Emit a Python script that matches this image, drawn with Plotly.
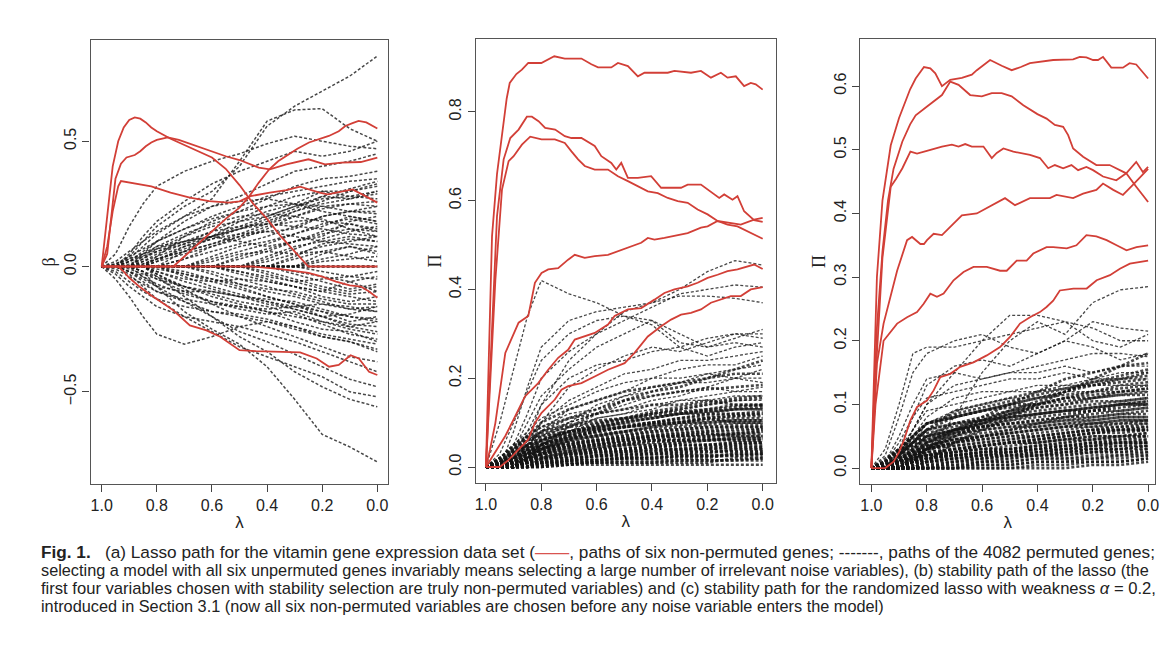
import plotly.graph_objects as go
from plotly.subplots import make_subplots

# lambda grid shared by the permuted (noise) paths
NOISE_LAM = [1.0, 0.95, 0.9, 0.85, 0.8, 0.7, 0.6, 0.5, 0.4, 0.3, 0.2, 0.1, 0.0]

# ---- panel (a): lasso path, six non-permuted genes ----
A1_LAM = [1.0, .98, .96, .94, .92, .90, .88, .86, .84, .82, .80, .75, .70, .65, .60, .55, .50, .45, .40, .35, .30, .25, 0.0]
A1_VAL = [0, .2, .40, .50, .555, .585, .595, .59, .575, .555, .54, .51, .485, .46, .435, .39, .325, .25, .19, .12, .06, 0, 0]
A2_LAM = [1.0, .98, .96, .95, .93, .91, .88, .86, .84, .82, .80, .76, .72, .68, .64, .60, .55, .50, .46, .43, .39, .33, .25, .19, .13, .06, 0.0]
A2_VAL = [0, .05, .25, .35, .41, .435, .445, .46, .48, .495, .505, .515, .505, .49, .475, .46, .44, .425, .408, .395, .388, .408, .428, .408, .415, .417, .435]
A3_LAM = [1.0, .98, .96, .94, .93, .90, .86, .82, .75, .68, .61, .54, .50, .46, .39, .33, .28, .25, .21, .18, .14, .09, .05, 0.0]
A3_VAL = [0, .08, .22, .32, .341, .335, .328, .32, .295, .275, .261, .255, .26, .281, .295, .305, .319, .308, .295, .288, .296, .308, .285, .255]
A4_LAM = [1.0, .74, .70, .65, .60, .55, .50, .464, .43, .392, .36, .332, .29, .248, .21, .176, .14, .116, .09, .068, .04, 0.0]
A4_VAL = [0, 0, .04, .09, .14, .19, .235, .281, .335, .388, .42, .441, .47, .495, .51, .521, .54, .561, .572, .581, .575, .551]
A5_LAM = [1.0, .94, .92, .90, .86, .82, .78, .74, .68, .62, .57, .50, .44, .38, .28, .22, .175, .14, .097, .067, .03, 0.0]
A5_VAL = [0, 0, -.02, -.045, -.083, -.116, -.145, -.175, -.235, -.255, -.28, -.334, -.338, -.34, -.343, -.367, -.40, -.393, -.354, -.367, -.42, -.433]
A6_LAM = [1.0, .45, .35, .25, .20, .15, .10, .06, .03, 0.0]
A6_VAL = [0, 0, -.01, -.025, -.04, -.06, -.075, -.08, -.1, -.125]

# panel (a): permuted genes
AN00 = [0, 0, 0, 0, 0, 0, 0, 0, 0, 0, 0, 0, 0]
AN01 = [0, 0, .04, .1, .16, .24, .3, .4, .56, .64, .7, .76, .84]
AN02 = [0, 0, .03, .08, .13, .2, .27, .42, .58, .625, .63, .55, .5]
AN03 = [0, .05, .16, .25, .32, .38, .42, .45, .49, .52, .5, .48, .47]
AN04 = [0, 0, .05, .12, .18, .26, .33, .38, .42, .46, .44, .46, .5]
AN05 = [0, 0, 0, .05, .1, .18, .24, .28, .33, .38, .4, .42, .45]
AN06 = [0, 0, 0, 0, .04, .12, .18, .22, .27, .32, .35, .36, .38]
AN07 = [0, 0, .02, .06, .1, .15, .2, .24, .28, .3, .32, .34, .35]
AN08 = [0, 0, 0, 0, 0, .06, .12, .18, .22, .25, .3, .3, .32]
AN09 = [0, 0, 0, .03, .07, .12, .16, .18, .2, .24, .28, .27, .3]
AN10 = [0, 0, 0, 0, .02, .08, .12, .15, .17, .2, .23, .25, .26]
AN11 = [0, 0, 0, 0, 0, .03, .08, .12, .14, .15, .2, .22, .22]
AN12 = [0, 0, 0, 0, 0, 0, .04, .08, .1, .13, .16, .2, .18]
AN13 = [0, 0, 0, 0, 0, 0, 0, .04, .07, .1, .14, .17, .14]
AN14 = [0, 0, 0, 0, 0, 0, 0, 0, .04, .08, .1, .12, .1]
AN15 = [0, 0, 0, 0, 0, 0, 0, 0, 0, .03, .06, .08, .06]
AN16 = [0, 0, 0, .04, .08, .1, .12, .1, .08, .1, .12, .18, .2]
AN17 = [0, 0, 0, 0, .03, .06, .09, .12, .16, .18, .19, .15, .12]
AN18 = [0, -.05, -.12, -.2, -.27, -.31, -.28, -.24, -.22, -.24, -.28, -.3, -.33]
AN19 = [0, 0, 0, -.02, -.08, -.18, -.25, -.31, -.4, -.53, -.67, -.72, -.78]
AN20 = [0, 0, 0, 0, -.04, -.12, -.2, -.28, -.34, -.42, -.48, -.53, -.56]
AN21 = [0, 0, -.03, -.08, -.13, -.2, -.26, -.32, -.36, -.4, -.44, -.5, -.52]
AN22 = [0, 0, 0, -.04, -.08, -.14, -.2, -.26, -.3, -.35, -.4, -.45, -.48]
AN23 = [0, -.03, -.08, -.12, -.16, -.2, -.22, -.24, -.27, -.3, -.34, -.38, -.42]
AN24 = [0, 0, -.02, -.06, -.1, -.14, -.18, -.2, -.22, -.25, -.28, -.3, -.34]
AN25 = [0, 0, 0, 0, -.03, -.08, -.12, -.15, -.18, -.22, -.25, -.26, -.3]
AN26 = [0, 0, 0, -.02, -.05, -.1, -.14, -.17, -.19, -.18, -.22, -.24, -.26]
AN27 = [0, 0, 0, 0, 0, -.04, -.08, -.11, -.14, -.16, -.18, -.22, -.2]
AN28 = [0, 0, 0, 0, 0, 0, -.03, -.07, -.1, -.12, -.15, -.16, -.18]
AN29 = [0, 0, 0, 0, 0, 0, 0, -.03, -.06, -.08, -.12, -.14, -.12]
AN30 = [0, 0, 0, 0, 0, 0, 0, 0, -.02, -.05, -.08, -.1, -.08]
AN31 = [0, 0, 0, 0, 0, -.02, -.05, -.08, -.12, -.15, -.2, -.24, -.22]
AN32 = [0, 0, -.02, -.05, -.08, -.1, -.1, -.12, -.14, -.17, -.2, -.19, -.16]
AN33 = [0, 0, 0, 0, -.02, -.05, -.06, -.05, -.06, -.08, -.1, -.06, -.04]
AN34 = [0, 0, 0, 0, 0, 0, 0, -.02, -.04, -.06, -.05, -.04, -.02]
AN35 = [0, 0, 0, 0, 0, 0, .02, .05, .06, .05, .06, .04, .02]
AN36 = [0, 0, 0, .02, .05, .09, .14, .19, .24, .28, .3, .28, .3]
AN37 = [0, 0, 0, 0, -.03, -.09, -.15, -.2, -.24, -.28, -.32, -.36, -.38]
AN38 = [0, 0, 0, 0, 0, 0, 0, 0, 0, -.02, -.04, -.06, -.1]
AN39 = [0, 0, 0, 0, 0, 0, 0, 0, .02, .05, .08, .1, .12]
AN40 = [0, 0, 0, 0, 0, 0, 0, 0, 0, 0, .03, .05, .08]
AN41 = [0, .02, .06, .1, .14, .2, .24, .26, .27, .25, .22, .2, .18]
AN42 = [0, .01, .04, .07, .1, .15, .19, .22, .24, .25, .24, .22, .24]
AN43 = [0, 0, .02, .05, .08, .13, .17, .2, .21, .2, .18, .17, .15]
AN44 = [0, 0, .01, .03, .06, .1, .14, .16, .17, .16, .15, .13, .12]
AN45 = [0, 0, 0, .02, .04, .08, .11, .13, .14, .12, .1, .09, .08]
AN46 = [0, .01, .03, .05, .07, .1, .12, .15, .18, .22, .26, .3, .33]
AN47 = [0, 0, .02, .04, .06, .09, .12, .16, .2, .24, .27, .28, .27]
AN48 = [0, 0, 0, .01, .03, .06, .09, .13, .17, .22, .25, .27, .29]
AN49 = [0, 0, 0, 0, .02, .05, .08, .11, .15, .2, .24, .25, .24]
AN50 = [0, 0, 0, 0, 0, .03, .06, .09, .12, .16, .2, .22, .21]
AN51 = [0, 0, 0, 0, 0, 0, .03, .06, .09, .13, .17, .19, .17]
AN52 = [0, 0, 0, 0, 0, 0, 0, .03, .06, .1, .13, .15, .14]
AN53 = [0, 0, 0, 0, 0, 0, 0, 0, .03, .07, .11, .14, .16]
AN54 = [0, 0, 0, 0, 0, 0, 0, 0, 0, .04, .09, .11, .1]
AN55 = [0, 0, 0, 0, 0, 0, 0, 0, 0, 0, .05, .08, .05]
AN56 = [0, -.01, -.04, -.07, -.1, -.13, -.15, -.16, -.17, -.16, -.15, -.17, -.18]
AN57 = [0, 0, -.02, -.04, -.07, -.11, -.14, -.16, -.18, -.2, -.22, -.25, -.27]
AN58 = [0, 0, 0, -.02, -.04, -.08, -.11, -.14, -.16, -.19, -.23, -.27, -.29]
AN59 = [0, 0, 0, 0, -.02, -.06, -.09, -.12, -.15, -.17, -.2, -.23, -.24]
AN60 = [0, 0, 0, 0, 0, -.03, -.06, -.09, -.12, -.15, -.18, -.2, -.22]
AN61 = [0, 0, 0, 0, 0, 0, -.02, -.05, -.08, -.11, -.14, -.17, -.16]
AN62 = [0, 0, 0, 0, 0, 0, 0, -.02, -.05, -.08, -.1, -.12, -.14]
AN63 = [0, 0, 0, 0, 0, 0, 0, 0, -.03, -.06, -.09, -.11, -.1]
AN64 = [0, 0, 0, 0, 0, 0, 0, 0, 0, -.03, -.06, -.09, -.07]
AN65 = [0, -.02, -.06, -.1, -.13, -.16, -.18, -.19, -.21, -.24, -.27, -.29, -.31]
AN66 = [0, 0, -.01, -.03, -.05, -.08, -.1, -.12, -.13, -.14, -.17, -.2, -.21]
AN67 = [0, 0, 0, 0, -.01, -.03, -.05, -.07, -.09, -.1, -.13, -.15, -.15]
AN68 = [0, 0, 0, 0, 0, 0, 0, 0, 0, 0, -.02, -.04, -.05]
AN69 = [0, 0, 0, 0, 0, 0, 0, 0, 0, 0, .02, .03, .04]
AN70 = [0, 0, 0, .01, .03, .07, .11, .15, .19, .23, .28, .31, .34]

# ---- panel (b): stability path of the lasso ----
B1_LAM = [1.0, .978, .96, .94, .925, .914, .89, .87, .847, .80, .776, .753, .715, .655, .619, .595, .547, .523, .487, .451, .427, .343, .319, .259, .223, .187, .151, .127, .097, .067, .043, .025, 0.0]
B1_VAL = [0, .52, .66, .76, .83, .865, .885, .895, .91, .91, .918, .925, .92, .92, .907, .90, .90, .91, .903, .88, .888, .888, .892, .888, .892, .877, .888, .877, .88, .858, .865, .862, .85]
B2_LAM = [1.0, .984, .96, .936, .912, .882, .852, .834, .81, .786, .75, .715, .691, .655, .607, .583, .547, .529, .511, .487, .451, .403, .367, .295, .271, .223, .175, .157, .139, .109, .091, .067, .031, 0.0]
B2_VAL = [0, .234, .565, .693, .741, .76, .789, .789, .779, .764, .76, .745, .741, .741, .723, .70, .685, .67, .685, .651, .651, .655, .629, .629, .636, .636, .614, .606, .614, .602, .61, .576, .556, .552]
B3_LAM = [1.0, .984, .966, .942, .918, .90, .87, .84, .799, .751, .715, .691, .667, .643, .607, .559, .523, .487, .451, .415, .379, .343, .307, .271, .235, .199, .163, .127, .091, .055, 0.0]
B3_VAL = [0, .2, .42, .625, .689, .70, .726, .744, .738, .738, .73, .711, .693, .678, .67, .67, .655, .644, .632, .621, .617, .606, .599, .595, .58, .569, .554, .546, .542, .531, .514]
B4_LAM = [1.0, .985, .966, .93, .882, .847, .823, .799, .775, .739, .703, .679, .643, .607, .559, .523, .487, .439, .415, .391, .355, .319, .271, .223, .199, .163, .127, .079, .031, 0.0]
B4_VAL = [0, .04, .099, .257, .325, .34, .415, .437, .445, .448, .467, .478, .471, .475, .478, .486, .494, .505, .516, .512, .516, .52, .527, .539, .542, .554, .55, .546, .557, .561]
B5_LAM = [1.0, .97, .93, .90, .859, .811, .775, .739, .703, .679, .643, .607, .559, .535, .487, .439, .391, .355, .319, .271, .235, .199, .163, .127, .091, .031, 0.0]
B5_VAL = [0, .03, .07, .107, .159, .189, .219, .246, .264, .287, .294, .302, .321, .34, .355, .358, .377, .392, .40, .407, .415, .426, .433, .441, .445, .456, .446]
B6_LAM = [1.0, .95, .92, .88, .847, .823, .799, .751, .727, .703, .655, .607, .559, .499, .463, .415, .367, .331, .295, .259, .223, .187, .151, .115, .079, .043, 0.0]
B6_VAL = [0, 0, .015, .04, .062, .099, .122, .152, .174, .182, .189, .204, .219, .234, .257, .294, .317, .332, .343, .347, .355, .37, .377, .385, .385, .40, .405]

# panel (b): permuted genes
BN01 = [0, .1, .22, .34, .42, .39, .37, .34, .33, .28, .27, .28, .27]
BN02 = [0, 0, .05, .12, .2, .26, .3, .35, .37, .4, .44, .465, .455]
BN03 = [0, 0, .08, .18, .27, .33, .35, .36, .37, .385, .385, .38, .37]
BN04 = [0, 0, 0, .06, .14, .24, .3, .33, .36, .39, .40, .41, .405]
BN05 = [0, .03, .1, .17, .24, .3, .33, .34, .32, .27, .29, .3, .3]
BN06 = [0, 0, .04, .1, .16, .22, .27, .3, .33, .3, .27, .29, .31]
BN07 = [0, 0, 0, .04, .1, .18, .22, .25, .27, .26, .28, .3, .29]
BN08 = [0, 0, .03, .08, .14, .2, .23, .24, .26, .27, .25, .27, .28]
BN09 = [0, 0, .02, .06, .1, .15, .18, .21, .22, .24, .24, .25, .26]
BN10 = [0, .02, .05, .08, .11, .14, .17, .19, .2, .22, .23, .23, .25]
BN11 = [0, 0, .02, .05, .08, .13, .15, .17, .2, .2, .21, .22, .23]
BN12 = [0, 0, 0, .03, .06, .1, .14, .16, .18, .19, .21, .2, .22]
BN13 = [0, .01, .04, .07, .09, .12, .13, .16, .17, .19, .19, .2, .2]
BN14 = [0, 0, .01, .04, .07, .1, .12, .14, .16, .17, .18, .2, .19]
BN15 = [0, 0, .03, .06, .08, .1, .12, .13, .15, .16, .18, .17, .18]
BN16 = [0, 0, 0, .02, .05, .08, .11, .12, .14, .15, .16, .17, .17]
BN17 = [0, .01, .03, .05, .07, .09, .11, .12, .13, .15, .15, .16, .16]
BN18 = [0, 0, .02, .04, .06, .08, .1, .11, .12, .13, .14, .15, .15]
BN19 = [0, 0, 0, .02, .04, .07, .09, .1, .11, .12, .13, .14, .14]
BN20 = [0, .01, .03, .05, .06, .08, .09, .1, .11, .12, .12, .13, .13]
BN21 = [0, 0, .02, .04, .05, .07, .08, .09, .1, .11, .12, .12, .125]
BN22 = [0, 0, 0, .02, .04, .06, .07, .08, .09, .1, .11, .115, .115]
BN23 = [0, .01, .02, .04, .05, .06, .07, .08, .09, .095, .1, .105, .105]
BN24 = [0, 0, .01, .03, .04, .05, .06, .07, .08, .085, .09, .095, .095]
BN25 = [0, 0, 0, .01, .03, .04, .05, .06, .07, .075, .08, .085, .085]
BN26 = [0, .01, .02, .03, .04, .045, .05, .055, .06, .065, .07, .075, .075]
BN27 = [0, 0, .01, .02, .03, .035, .04, .045, .05, .055, .06, .065, .065]
BN28 = [0, 0, 0, .01, .02, .03, .035, .04, .045, .05, .05, .055, .055]
BN29 = [0, .005, .01, .02, .025, .03, .03, .035, .04, .04, .045, .045, .045]
BN30 = [0, 0, .005, .01, .015, .02, .025, .03, .03, .035, .035, .035, .035]
BN31 = [0, 0, 0, .005, .01, .015, .02, .02, .025, .025, .025, .025, .025]
BN32 = [0, 0, 0, 0, .005, .01, .01, .015, .015, .015, .015, .015, .015]
BN33 = [0, 0, 0, 0, 0, .005, .005, .005, .005, .005, .005, .005, .005]
BN34 = [0, .02, .04, .06, .07, .08, .085, .09, .095, .1, .105, .11, .11]
BN35 = [0, .015, .03, .045, .055, .065, .07, .075, .08, .085, .09, .09, .09]
BN36 = [0, .01, .025, .035, .045, .05, .055, .06, .065, .07, .07, .075, .08]
BN37 = [0, .01, .02, .03, .035, .04, .045, .05, .05, .055, .06, .06, .06]
BN38 = [0, .005, .015, .02, .025, .03, .035, .035, .04, .04, .045, .05, .05]
BN39 = [0, 0, .01, .015, .02, .02, .025, .025, .03, .03, .03, .04, .04]
BN40 = [0, 0, 0, .01, .01, .015, .015, .02, .02, .02, .02, .03, .03]
BN41 = [0, 0, 0, 0, .01, .01, .01, .01, .01, .01, .01, .02, .02]
BN42 = [0, 0, .01, .03, .05, .07, .08, .09, .1, .1, .11, .1, .1]
BN43 = [0, 0, 0, .015, .03, .05, .06, .065, .07, .07, .075, .07, .07]
BN44 = [0, .02, .05, .07, .09, .11, .12, .13, .14, .14, .15, .14, .14]
BN45 = [0, 0, 0, 0, .015, .03, .04, .05, .06, .06, .065, .06, .06]
BN46 = [0, .01, .02, .035, .045, .055, .06, .065, .07, .075, .08, .08, .085]
BN47 = [0, 0, .015, .025, .035, .045, .05, .055, .06, .06, .065, .07, .07]
BN48 = [0, .005, .01, .02, .03, .035, .04, .04, .045, .05, .05, .055, .055]
BN49 = [0, 0, 0, .01, .02, .025, .03, .035, .035, .04, .04, .045, .045]
BN50 = [0, .005, .01, .015, .02, .02, .025, .025, .03, .03, .035, .035, .035]
BN51 = [0, 0, .005, .01, .01, .015, .015, .02, .02, .025, .025, .025, .03]
BN52 = [0, 0, 0, 0, .005, .005, .01, .01, .01, .015, .015, .015, .02]
BN53 = [0, .015, .035, .05, .065, .08, .09, .095, .1, .105, .11, .115, .12]
BN54 = [0, .01, .03, .045, .06, .075, .085, .09, .095, .1, .1, .105, .105]
BN55 = [0, 0, .02, .035, .05, .065, .075, .08, .085, .09, .095, .1, .1]
BN56 = [0, 0, .01, .025, .04, .055, .065, .07, .075, .08, .085, .09, .09]
BN57 = [0, 0, 0, .015, .03, .045, .055, .06, .065, .07, .075, .075, .08]
BN58 = [0, 0, 0, 0, .02, .035, .045, .05, .055, .06, .06, .065, .065]
BN59 = [0, 0, 0, 0, .01, .025, .035, .04, .045, .045, .05, .05, .055]
BN60 = [0, 0, 0, 0, 0, .015, .025, .03, .035, .035, .04, .04, .04]
BN61 = [0, 0, 0, 0, 0, .005, .015, .02, .02, .025, .025, .03, .03]
BN62 = [0, .02, .045, .065, .08, .095, .105, .11, .115, .12, .125, .13, .13]
BN63 = [0, .01, .035, .06, .075, .09, .1, .11, .12, .125, .13, .135, .14]
BN64 = [0, 0, .02, .04, .06, .08, .095, .105, .11, .12, .125, .13, .135]
BN65 = [0, 0, 0, .02, .04, .065, .08, .09, .1, .11, .115, .12, .12]
BN66 = [0, 0, .01, .03, .05, .075, .095, .11, .125, .135, .145, .155, .16]
BN67 = [0, 0, 0, .01, .03, .06, .085, .105, .12, .13, .14, .15, .155]
BN68 = [0, 0, .02, .05, .08, .11, .13, .15, .16, .17, .175, .18, .185]
BN69 = [0, .01, .04, .07, .1, .13, .15, .17, .18, .19, .2, .21, .21]
BN70 = [0, 0, 0, .02, .05, .09, .12, .15, .17, .18, .2, .22, .24]

# ---- panel (c): stability path, randomized lasso (alpha = 0.2) ----
C1_LAM = [1.0, .98, .96, .93, .90, .882, .86, .84, .81, .787, .769, .745, .715, .673, .637, .619, .571, .529, .493, .46, .427, .343, .271, .247, .223, .199, .181, .163, .133, .091, .067, .043, 0.0]
C1_VAL = [0, .3, .42, .507, .55, .57, .595, .612, .63, .628, .62, .60, .61, .613, .618, .625, .641, .632, .625, .63, .636, .641, .642, .646, .645, .641, .641, .646, .629, .629, .636, .634, .612]
C2_LAM = [1.0, .98, .96, .94, .92, .888, .86, .84, .793, .745, .715, .685, .643, .601, .565, .529, .493, .451, .40, .367, .337, .307, .289, .271, .235, .187, .139, .079, .043, 0.0]
C2_VAL = [0, .22, .34, .42, .47, .513, .54, .554, .57, .586, .607, .602, .586, .584, .589, .589, .584, .57, .556, .549, .539, .536, .523, .502, .489, .476, .476, .463, .442, .418]
C3_LAM = [1.0, .98, .96, .93, .91, .888, .859, .835, .793, .745, .709, .685, .661, .637, .595, .565, .547, .523, .487, .427, .391, .361, .337, .307, .277, .253, .223, .199, .163, .115, .079, .043, .019, 0.0]
C3_VAL = [0, .18, .33, .442, .455, .471, .497, .494, .499, .505, .508, .505, .509, .505, .505, .487, .495, .502, .497, .492, .487, .471, .476, .471, .476, .468, .473, .468, .458, .452, .463, .481, .465, .473]
C4_LAM = [1.0, .98, .956, .907, .871, .853, .823, .81, .799, .775, .745, .709, .673, .619, .577, .517, .481, .427, .355, .331, .271, .235, .187, .163, .126, .091, .055, 0.0]
C4_VAL = [0, .164, .227, .31, .358, .363, .352, .352, .358, .368, .366, .382, .397, .40, .41, .424, .413, .424, .424, .429, .424, .431, .437, .447, .437, .429, .445, .47]
C5_LAM = [1.0, .985, .956, .907, .871, .835, .811, .787, .763, .739, .703, .667, .631, .583, .535, .511, .475, .439, .415, .367, .343, .294, .259, .223, .187, .15, .114, .078, .042, 0.0]
C5_VAL = [0, .1, .20, .227, .237, .245, .258, .274, .269, .274, .295, .308, .316, .316, .31, .31, .326, .326, .337, .347, .347, .345, .35, .366, .364, .358, .35, .342, .347, .35]
C6_LAM = [1.0, .95, .92, .90, .883, .859, .835, .799, .775, .751, .715, .679, .631, .583, .535, .499, .463, .427, .391, .367, .343, .319, .27, .222, .186, .138, .102, .066, 0.0]
C6_VAL = [0, 0, .01, .025, .043, .075, .096, .106, .122, .143, .148, .159, .166, .177, .19, .206, .227, .237, .245, .253, .263, .279, .282, .282, .295, .303, .313, .321, .326]

# panel (c): permuted genes
CN01 = [0, 0, 0, .01, .03, .08, .15, .2, .23, .21, .26, .28, .285]
CN02 = [0, 0, .02, .06, .1, .15, .2, .24, .24, .23, .2, .19, .21]
CN03 = [0, .02, .08, .15, .18, .2, .21, .19, .18, .2, .23, .22, .215]
CN04 = [0, .03, .1, .18, .19, .19, .2, .21, .22, .23, .22, .2, .2]
CN05 = [0, 0, .03, .08, .13, .16, .17, .16, .18, .2, .19, .17, .18]
CN06 = [0, .01, .05, .1, .14, .15, .14, .15, .16, .17, .18, .18, .175]
CN07 = [0, 0, .02, .06, .1, .13, .14, .15, .15, .16, .15, .16, .16]
CN08 = [0, .01, .04, .08, .11, .12, .13, .14, .14, .15, .14, .15, .15]
CN09 = [0, 0, .02, .05, .08, .11, .12, .12, .13, .13, .14, .14, .14]
CN10 = [0, .01, .03, .06, .09, .1, .11, .12, .12, .13, .13, .13, .13]
CN11 = [0, 0, .02, .04, .07, .09, .1, .11, .11, .12, .12, .12, .12]
CN12 = [0, .01, .03, .05, .07, .08, .09, .1, .1, .11, .11, .115, .115]
CN13 = [0, 0, .01, .03, .05, .07, .08, .09, .095, .1, .105, .105, .11]
CN14 = [0, .005, .02, .04, .06, .07, .075, .08, .085, .09, .095, .1, .1]
CN15 = [0, 0, .01, .03, .05, .06, .07, .075, .08, .085, .09, .09, .095]
CN16 = [0, .005, .015, .03, .04, .05, .06, .065, .07, .075, .08, .085, .085]
CN17 = [0, 0, .01, .02, .035, .045, .055, .06, .065, .07, .075, .08, .08]
CN18 = [0, .005, .015, .025, .035, .045, .05, .055, .06, .065, .07, .07, .075]
CN19 = [0, 0, .01, .02, .03, .04, .045, .05, .055, .06, .065, .065, .07]
CN20 = [0, .005, .01, .02, .03, .035, .04, .045, .05, .055, .06, .06, .065]
CN21 = [0, 0, .005, .015, .025, .03, .035, .04, .045, .05, .055, .055, .06]
CN22 = [0, .005, .01, .015, .02, .025, .03, .035, .04, .045, .05, .05, .055]
CN23 = [0, 0, .005, .01, .02, .025, .03, .03, .035, .04, .045, .045, .05]
CN24 = [0, 0, 0, .01, .015, .02, .025, .03, .03, .035, .04, .04, .045]
CN25 = [0, .005, .01, .015, .02, .02, .025, .025, .03, .03, .035, .035, .04]
CN26 = [0, 0, .005, .01, .015, .015, .02, .02, .025, .025, .03, .03, .035]
CN27 = [0, 0, 0, .005, .01, .01, .015, .015, .02, .02, .025, .025, .03]
CN28 = [0, 0, 0, 0, .005, .005, .01, .01, .015, .015, .02, .02, .025]
CN29 = [0, 0, 0, 0, 0, 0, .005, .005, .01, .01, .015, .015, .02]
CN30 = [0, 0, 0, 0, 0, 0, 0, 0, .005, .005, .01, .01, .015]
CN31 = [0, 0, 0, 0, 0, 0, 0, 0, 0, 0, .005, .005, .01]
CN32 = [0, 0, .01, .025, .04, .055, .065, .07, .075, .08, .085, .09, .095]
CN33 = [0, 0, .005, .015, .03, .04, .05, .055, .06, .065, .07, .075, .075]
CN34 = [0, .01, .02, .035, .05, .06, .065, .07, .075, .08, .08, .085, .09]
CN35 = [0, 0, 0, .005, .015, .025, .035, .04, .045, .05, .055, .06, .06]
CN36 = [0, 0, .005, .01, .02, .03, .035, .04, .04, .045, .05, .05, .05]
CN37 = [0, 0, 0, .01, .015, .02, .025, .025, .03, .035, .035, .04, .04]
CN38 = [0, 0, 0, 0, .01, .015, .02, .02, .02, .025, .025, .03, .03]
CN39 = [0, 0, .01, .02, .03, .04, .05, .06, .07, .08, .09, .1, .105]
CN40 = [0, 0, 0, .02, .04, .06, .07, .085, .095, .1, .11, .115, .12]
CN41 = [0, .01, .03, .05, .07, .08, .09, .095, .1, .105, .11, .12, .125]
CN42 = [0, 0, .02, .04, .06, .09, .1, .11, .12, .125, .13, .135, .14]
CN43 = [0, 0, 0, .01, .03, .06, .08, .1, .12, .14, .15, .16, .165]
CN44 = [0, 0, .02, .05, .07, .08, .09, .1, .11, .12, .13, .14, .15]
CN45 = [0, 0, 0, 0, .01, .04, .06, .08, .1, .12, .14, .16, .18]
CN46 = [0, .005, .01, .02, .03, .04, .045, .05, .05, .055, .06, .06, .06]
CN47 = [0, 0, .01, .015, .025, .03, .035, .04, .04, .045, .045, .05, .05]
CN48 = [0, .005, .01, .015, .02, .025, .03, .03, .035, .035, .04, .04, .04]
CN49 = [0, 0, 0, .01, .015, .02, .02, .025, .025, .03, .03, .035, .035]
CN50 = [0, 0, .005, .01, .01, .015, .015, .02, .02, .02, .025, .025, .025]
CN51 = [0, 0, 0, 0, .005, .01, .01, .01, .015, .015, .015, .02, .02]
CN52 = [0, 0, 0, 0, 0, .005, .005, .005, .01, .01, .01, .01, .015]
CN53 = [0, .01, .025, .04, .05, .06, .065, .07, .07, .075, .075, .08, .08]
CN54 = [0, .005, .02, .035, .045, .055, .06, .065, .065, .07, .07, .075, .075]
CN55 = [0, 0, .015, .025, .035, .045, .05, .055, .06, .065, .065, .07, .07]
CN56 = [0, 0, .01, .02, .03, .035, .04, .045, .05, .055, .06, .065, .065]
CN57 = [0, 0, 0, .01, .02, .03, .035, .04, .045, .05, .055, .06, .06]
CN58 = [0, 0, 0, .005, .015, .02, .025, .03, .035, .04, .045, .05, .055]
CN59 = [0, 0, 0, 0, .01, .015, .02, .025, .03, .035, .04, .045, .045]
CN60 = [0, 0, 0, 0, 0, .01, .015, .02, .025, .03, .035, .04, .04]
CN61 = [0, 0, 0, 0, 0, 0, .01, .015, .02, .025, .03, .03, .035]
CN62 = [0, .015, .03, .045, .06, .07, .075, .08, .085, .09, .09, .095, .1]
CN63 = [0, .01, .025, .04, .055, .065, .075, .085, .09, .095, .1, .105, .11]
CN64 = [0, 0, .015, .03, .045, .06, .07, .08, .085, .09, .095, .1, .105]
CN65 = [0, 0, 0, .015, .03, .05, .065, .075, .085, .09, .095, .1, .1]
CN66 = [0, 0, .01, .025, .04, .06, .075, .09, .1, .11, .115, .12, .125]
CN67 = [0, 0, 0, .01, .025, .05, .07, .085, .1, .11, .12, .125, .13]
CN68 = [0, 0, .02, .04, .06, .08, .09, .1, .11, .115, .12, .13, .135]
CN69 = [0, .01, .03, .05, .07, .085, .095, .105, .115, .125, .135, .14, .145]
CN70 = [0, 0, 0, .01, .03, .055, .075, .09, .105, .12, .135, .145, .155]

X_TICKS = [1.0, 0.8, 0.6, 0.4, 0.2, 0.0]
X_TICKTEXT = ['1.0', '0.8', '0.6', '0.4', '0.2', '0.0']

CAPTION = [
    '<b>Fig. 1.</b>&nbsp;&nbsp;&nbsp;(a) Lasso path for the vitamin gene expression data set '
    '(<span style="color:#d9534f">——</span>, paths of six non-permuted genes; -------, '
    'paths of the 4082 permuted genes;',
    'selecting a model with all six unpermuted genes invariably means selecting a large number '
    'of irrelevant noise variables), (b) stability path of the lasso (the',
    'first four variables chosen with stability selection are truly non-permuted variables) '
    'and (c) stability path for the randomized lasso with weakness <i>α</i> = 0.2,',
    'introduced in Section 3.1 (now all six non-permuted variables are chosen before any '
    'noise variable enters the model)',
]
CAPTION_SIZE = [17.2, 16.3, 16.6, 16.3]

RED = '#d23f37'
NOISE = 'rgba(20,20,20,0.78)'

red_a = [(A1_LAM, A1_VAL), (A2_LAM, A2_VAL), (A3_LAM, A3_VAL),
         (A4_LAM, A4_VAL), (A5_LAM, A5_VAL), (A6_LAM, A6_VAL)]
red_b = [(B1_LAM, B1_VAL), (B2_LAM, B2_VAL), (B3_LAM, B3_VAL),
         (B4_LAM, B4_VAL), (B5_LAM, B5_VAL), (B6_LAM, B6_VAL)]
red_c = [(C1_LAM, C1_VAL), (C2_LAM, C2_VAL), (C3_LAM, C3_VAL),
         (C4_LAM, C4_VAL), (C5_LAM, C5_VAL), (C6_LAM, C6_VAL)]

noise_a = [AN01, AN02, AN03, AN04, AN05, AN06, AN07, AN08, AN09, AN10,
           AN11, AN12, AN13, AN14, AN15, AN16, AN17, AN18, AN19, AN20,
           AN21, AN22, AN23, AN24, AN25, AN26, AN27, AN28, AN29, AN30,
           AN31, AN32, AN33, AN34, AN35, AN36, AN37, AN38, AN39, AN40,
           AN41, AN42, AN43, AN44, AN45, AN46, AN47, AN48, AN49, AN50,
           AN51, AN52, AN53, AN54, AN55, AN56, AN57, AN58, AN59, AN60,
           AN61, AN62, AN63, AN64, AN65, AN66, AN67, AN68, AN69, AN70]
# sparse upper paths and the dense band near zero
noise_b_top = [BN01, BN02, BN03, BN04, BN05, BN06, BN07, BN08, BN09, BN10,
               BN11, BN12, BN13, BN14, BN15, BN16, BN17, BN18]
noise_b_low = [BN19, BN20, BN21, BN22, BN23, BN24, BN25, BN26, BN27, BN28,
               BN29, BN30, BN31, BN32, BN33, BN34, BN35, BN36, BN37, BN38,
               BN39, BN40, BN41, BN42, BN43, BN44, BN45, BN46, BN47, BN48,
               BN49, BN50, BN51, BN52, BN53, BN54, BN55, BN56, BN57, BN58,
               BN59, BN60, BN61, BN62, BN63, BN64, BN65, BN66, BN67, BN68,
               BN69, BN70]
noise_c_top = [CN01, CN02, CN03, CN04, CN05, CN06, CN07, CN08, CN09, CN10, CN11]
noise_c_low = [CN12, CN13, CN14, CN15, CN16, CN17, CN18, CN19, CN20,
               CN21, CN22, CN23, CN24, CN25, CN26, CN27, CN28, CN29, CN30,
               CN31, CN32, CN33, CN34, CN35, CN36, CN37, CN38, CN39, CN40,
               CN41, CN42, CN43, CN44, CN45, CN46, CN47, CN48, CN49, CN50,
               CN51, CN52, CN53, CN54, CN55, CN56, CN57, CN58, CN59, CN60,
               CN61, CN62, CN63, CN64, CN65, CN66, CN67, CN68, CN69, CN70]

fig = make_subplots(rows=1, cols=3)


def add_noise(col, paths, width=1.3):
    for p in paths:
        fig.add_trace(go.Scatter(x=NOISE_LAM, y=p, mode='lines',
                                 line=dict(color=NOISE, width=width, dash='3px,2px'),
                                 hoverinfo='skip', showlegend=False), row=1, col=col)


def add_red(col, paths):
    for lam, val in paths:
        fig.add_trace(go.Scatter(x=lam, y=val, mode='lines',
                                 line=dict(color=RED, width=1.8),
                                 hoverinfo='skip', showlegend=False), row=1, col=col)


add_noise(1, noise_a, width=1.5)
add_noise(1, [AN00], width=3)
add_noise(2, noise_b_top)
add_noise(2, noise_b_low, width=2.6)
add_noise(3, noise_c_top)
add_noise(3, noise_c_low, width=2.6)
add_red(1, red_a)
add_red(2, red_b)
add_red(3, red_c)

# the page body adds an 8px margin, so the figure is placed 8px in from the window
OFF = 8
W, H = 1175 - 2 * OFF, 668 - 2 * OFF
# plot boxes in window pixels: (left, right, top, bottom)
boxes = [(90, 389, 40, 484), (477, 778, 39, 483), (863, 1159, 39, 484)]
xranges = [[1.04, -0.04], [1.036, -0.047], [1.04, -0.025]]
yranges = [[-0.868, 0.904], [-0.036, 0.964], [-0.025, 0.674]]
ytitles = ['β', 'Π', 'Π']
yticks = [[-0.5, 0.0, 0.5], [0.0, 0.2, 0.4, 0.6, 0.8], [0.0, 0.1, 0.2, 0.3, 0.4, 0.5, 0.6]]

tickfont = dict(family='Liberation Sans, Arial, sans-serif', size=16, color='#222')
for i in range(3):
    l, r, t, b = [v - OFF for v in boxes[i]]
    sfx = '' if i == 0 else str(i + 1)
    fig.layout['xaxis' + sfx].update(
        domain=[l / W, r / W], range=xranges[i],
        tickvals=X_TICKS, ticktext=X_TICKTEXT,
        ticks='outside', ticklen=7, tickcolor='#444', tickwidth=1.2,
        showline=True, mirror=True, linecolor='#555', linewidth=1.4,
        showgrid=False, zeroline=False, tickfont=tickfont,
        title=dict(text='λ', font=dict(family='Liberation Sans, Arial', size=17, color='#222'),
                   standoff=2))
    fig.layout['yaxis' + sfx].update(
        domain=[1 - b / H, 1 - t / H], range=yranges[i],
        tickvals=yticks[i], tickformat='.1f', tickangle=-90,
        ticks='outside', ticklen=7, tickcolor='#444', tickwidth=1.2,
        showline=True, mirror=True, linecolor='#555', linewidth=1.4,
        showgrid=False, zeroline=False, tickfont=tickfont,
        title=dict(text=ytitles[i], font=dict(family='Liberation Serif, Times New Roman, serif',
                                              size=18, color='#222'),
                   standoff=1))

for k, line in enumerate(CAPTION):
    fig.add_annotation(text=line, xref='paper', yref='paper',
                       x=(38 - OFF) / W, y=1 - (552 + 18 * k - OFF) / H,
                       xanchor='left', yanchor='middle', showarrow=False, align='left',
                       font=dict(family='Liberation Sans, Arial', size=CAPTION_SIZE[k],
                                 color='#222'))

fig.update_layout(width=W, height=H, margin=dict(l=0, r=0, t=0, b=0),
                  plot_bgcolor='white', paper_bgcolor='white', hovermode=False)

fig.write_html('out.html')
